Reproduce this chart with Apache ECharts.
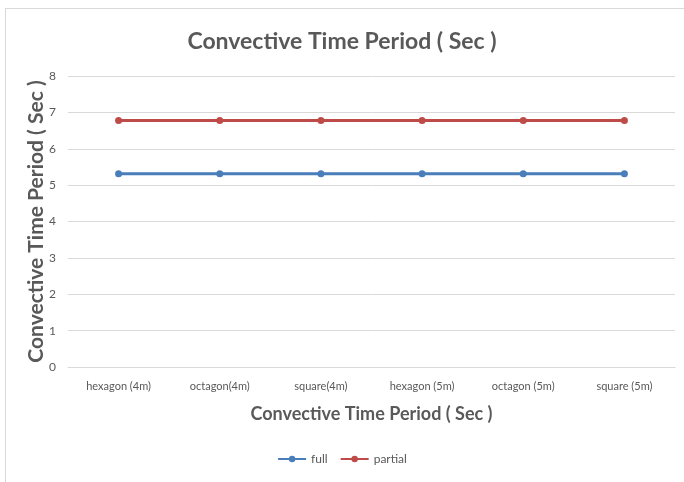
<!DOCTYPE html>
<html>
<head>
<meta charset="utf-8">
<script src="https://cdn.jsdelivr.net/npm/echarts@6/dist/echarts.min.js"></script>
<style>
  html, body { margin: 0; padding: 0; background: #fff; }
  #frame { position: absolute; left: 5px; top: 8px; width: 690px; height: 480px; border: 1px solid #d9d9d9; }
  #chart { position: absolute; left: 0; top: 0; width: 684px; height: 482px; }
</style>
</head>
<body>
<div id="frame"></div>
<div id="chart"></div>
<script>
// 数据
var categories = ['hexagon (4m)', 'octagon(4m)', 'square(4m)', 'hexagon (5m)', 'octagon (5m)', 'square (5m)'];
var fullData = [5.31, 5.31, 5.31, 5.31, 5.31, 5.31];
var partialData = [6.78, 6.78, 6.78, 6.78, 6.78, 6.78];

var chart = echarts.init(document.getElementById('chart'));
var textColor = '#595959';
var fontFam = 'Lato, "Open Sans", sans-serif';

chart.setOption({
  title: {
    text: 'Convective Time Period ( Sec )',
    left: 'center',
    top: 25,
    textStyle: { fontFamily: fontFam, fontSize: 23, fontWeight: 'bold', color: textColor }
  },
  legend: {
    bottom: 12,
    left: 'center',
    itemWidth: 28,
    itemHeight: 8,
    itemGap: 12,
    textStyle: { fontFamily: fontFam, fontSize: 12, color: textColor },
    data: ['full', 'partial']
  },
  grid: { left: 68, right: 9, top: 76, bottom: 115 },
  xAxis: {
    type: 'category',
    data: categories,
    name: 'Convective Time Period ( Sec )',
    nameLocation: 'middle',
    nameGap: 38,
    nameTextStyle: { fontFamily: fontFam, fontSize: 18, fontWeight: 'bold', color: textColor },
    axisLine: { lineStyle: { color: '#d9d9d9' } },
    axisTick: { show: false },
    axisLabel: { fontFamily: fontFam, fontSize: 11, color: textColor, margin: 14, interval: 0 }
  },
  yAxis: {
    type: 'value',
    min: 0,
    max: 8,
    interval: 1,
    name: 'Convective Time Period ( Sec )',
    nameLocation: 'middle',
    nameGap: 21,
    nameMoveOverlap: false,
    nameTextStyle: { fontFamily: fontFam, fontSize: 21, fontWeight: 'bold', color: textColor },
    axisLine: { show: false },
    axisTick: { show: false },
    axisLabel: { fontFamily: fontFam, fontSize: 12, color: textColor, margin: 12 },
    splitLine: { lineStyle: { color: '#d9d9d9' } }
  },
  series: [
    {
      name: 'full',
      type: 'line',
      data: fullData,
      symbol: 'circle',
      symbolSize: 7,
      itemStyle: { color: '#4a7ebb' },
      lineStyle: { width: 3 }
    },
    {
      name: 'partial',
      type: 'line',
      data: partialData,
      symbol: 'circle',
      symbolSize: 7,
      itemStyle: { color: '#be4b48' },
      lineStyle: { width: 3 }
    }
  ]
});
</script>
</body>
</html>
